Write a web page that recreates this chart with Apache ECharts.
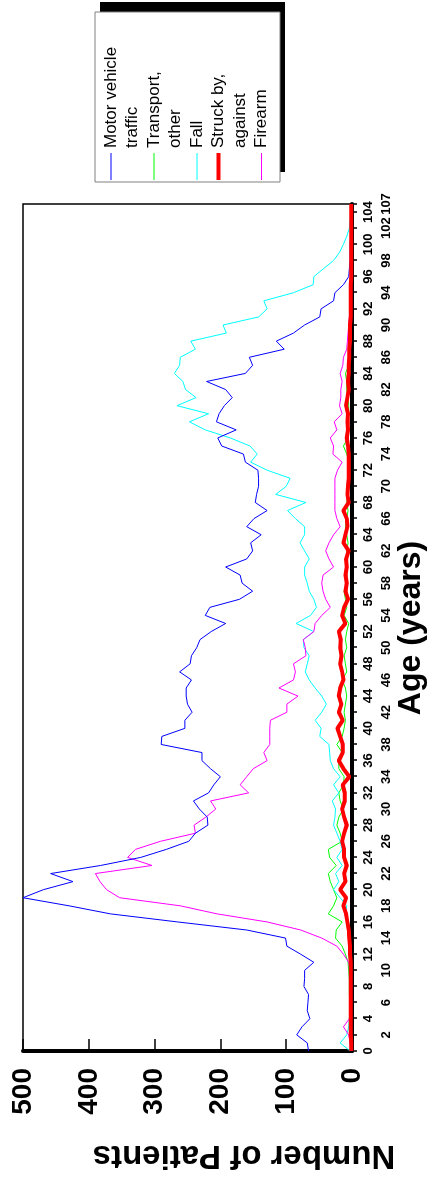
<!DOCTYPE html>
<html><head><meta charset="utf-8">
<script src="https://cdn.jsdelivr.net/npm/echarts@6/dist/echarts.min.js"></script>
<style>
html,body{margin:0;padding:0;background:#fff;overflow:hidden;width:437px;height:1184px}
#chart{position:absolute;left:0;top:0;width:1184px;height:437px;transform-origin:0 0;transform:translateY(1184px) rotate(-90deg);}
</style></head><body><div id="chart"></div>
<script>
const ages = ['0','1','2','3','4','5','6','7','8','9','10','11','12','13','14','15','16','17','18','19','20','21','22','23','24','25','26','27','28','29','30','31','32','33','34','35','36','37','38','39','40','41','42','43','44','45','46','47','48','49','50','51','52','53','54','55','56','57','58','59','60','61','62','63','64','65','66','67','68','69','70','71','72','73','74','75','76','77','78','79','80','81','82','83','84','85','86','87','88','89','90','91','92','93','94','95','96','97','98','99','100','101','102','103','104','107'];
const seriesNames = ['Motor vehicle traffic','Transport, other','Fall','Struck by, against','Firearm'];
const legendLabels = ['Motor vehicle\ntraffic','Transport,\nother','Fall','Struck by,\nagainst','Firearm'];
const valueTicks = [0,100,200,300,400,500];

const motorVehicle = [66,68,84,76,64,68,67,66,73,72, 72,58,78,99,101,160,265,367,430,500, 469,424,458,382,321,282,248,238,219,220, 232,241,218,210,200,215,228,228,290,289, 254,254,243,250,252,252,244,262,246,244, 236,231,214,192,223,216,171,151,167,170, 192,160,151,154,138,160,149,129,147,145, 142,142,143,162,165,198,204,176,206,202, 194,182,192,221,162,151,156,103,115,89, 72,49,47,28,26,13,5,4,3,3, 3,2,2,1,1, 0];
const transportOther = [1,2,2,2,3,3,3,4,4,4, 5,6,10,15,25,24,15,36,28,23, 28,33,36,24,34,36,15,18,23,20, 13,18,20,13,12,20,20,15,23,15, 12,10,12,10,8,10,15,8,10,12, 8,10,8,5,12,8,10,12,8,8, 10,8,8,6,8,10,8,6,8,6, 8,6,6,5,8,13,6,5,6,5, 5,6,8,8,10,5,4,4,3,3, 3,2,2,2,2,1,1,1,1,1, 0,0,0,0,0, 0];
const fall = [3,18,8,5,4,3,3,3,3,4, 4,4,4,4,4,4,5,10,8,18, 28,20,25,15,23,15,18,23,28,26, 25,30,20,28,18,28,33,34,35,49, 47,56,46,39,46,56,65,71,68,65, 73,74,58,85,63,54,58,65,68,72, 72,65,72,79,72,72,86,98,70,116, 100,94,129,154,144,155,185,223,247,218, 266,237,253,257,270,262,261,238,245,191, 196,142,129,134,89,59,58,43,28,19, 13,8,4,3,1, 0];
const struckBy = [1,1,2,2,2,2,2,2,2,2, 2,2,3,3,4,5,7,9,13,9, 18,10,12,8,12,12,15,12,8,12, 15,11,11,14,4,13,20,14,14,18, 22,14,20,16,20,18,13,15,18,16, 18,17,20,10,15,12,6,10,8,10, 8,9,5,13,10,7,8,13,5,7, 6,5,5,5,5,6,8,6,7,6, 9,7,5,6,5,5,4,4,3,3, 3,2,2,2,2,2,1,1,1,1, 1,1,1,1,1, 1];
const firearm = [2,3,5,13,4,3,3,3,3,3, 3,5,13,23,46,78,129,205,261,353, 373,383,390,304,341,329,291,238,240,222, 207,215,157,170,160,150,129,134,125,125, 125,124,99,99,82,111,89,86,89,70, 71,74,58,56,46,33,40,44,46,44, 28,35,40,35,28,18,23,26,26,26, 26,26,22,15,29,28,33,23,27,15, 19,17,17,15,18,14,13,8,7,6, 5,4,3,3,2,2,2,1,1,1, 1,1,0,0,0, 0];

const colors = ['#0000FF','#00FF00','#00FFFF','#FF0000','#FF00FF'];
const widths = [1,1,1,4,1];
const dataSets = [motorVehicle, transportOther, fall, struckBy, firearm];
const zOrder = [4,2,3,6,3];
const FONT = "'Liberation Sans', Arial, Helvetica, sans-serif";

const chart = echarts.init(document.getElementById('chart'), null, {renderer:'canvas'});
const lastIdx = ages.length - 1;
const showTick = function(index){ return index % 2 === 0 || index === lastIdx; };
const showNear = function(index){ return index % 4 === 0 && index !== lastIdx; };
const showFar = function(index){ return index % 4 === 2 || index === lastIdx; };

const legendGraphics = [
  {type:'rect', shape:{x:1012,y:100,width:170,height:185}, style:{fill:'#000'}, z:10},
  {type:'rect', shape:{x:1002,y:95,width:170,height:185}, style:{fill:'#fff',stroke:'#808080',lineWidth:1}, z:11}
];
const lineH = 21.5;
let cy = 111;
seriesNames.forEach(function(name, i){
  legendGraphics.push({type:'line', shape:{x1:1004,y1:cy,x2:1031,y2:cy}, style:{stroke:colors[i], lineWidth:widths[i]}, z:12});
  legendGraphics.push({type:'text', x:1036, y:cy - lineH/2, style:{text:legendLabels[i], fill:'#000', font:'17px ' + FONT, lineHeight:lineH, align:'left', verticalAlign:'top', textAlign:'left', textVerticalAlign:'top'}, z:12});
  cy += lineH * legendLabels[i].split('\n').length;
});

const labelBase = {fontSize:13, fontWeight:'bold', color:'#000', fontFamily:FONT, lineHeight:18, showMinLabel:true, showMaxLabel:true, hideOverlap:false};

const option = {
  animation:false,
  backgroundColor:'#fff',
  textStyle:{fontFamily:FONT},
  grid:{left:133,right:204,top:23,bottom:85,show:true,borderColor:'#000',borderWidth:1.5,backgroundColor:'transparent'},
  xAxis:[{
    type:'category', data:ages, boundaryGap:false, position:'bottom',
    axisLine:{lineStyle:{color:'#000',width:4}},
    axisTick:{show:true, interval:showTick, length:5, lineStyle:{color:'#000',width:1.5}},
    axisLabel:Object.assign({interval:showNear, margin:7}, labelBase),
    splitLine:{show:false}
  },{
    type:'category', data:ages, boundaryGap:false, position:'bottom', offset:0,
    axisLine:{show:false}, axisTick:{show:false},
    axisLabel:Object.assign({interval:showFar, margin:25}, labelBase),
    splitLine:{show:false}
  }],
  yAxis:{
    type:'value', min:valueTicks[0], max:valueTicks[valueTicks.length-1], interval:valueTicks[1]-valueTicks[0],
    axisLine:{show:true, lineStyle:{color:'#000',width:4}},
    axisTick:{show:true, inside:true, length:12, lineStyle:{color:'#000',width:1.5}},
    axisLabel:{margin:17, fontSize:28, fontWeight:'bold', color:'#000', fontFamily:FONT},
    splitLine:{show:false}
  },
  series: seriesNames.map(function(name, i){
    return {name:name, type:'line', xAxisIndex:0, data:dataSets[i], symbol:'none', smooth:false, z:zOrder[i],
      lineStyle:{color:colors[i], width:widths[i]}, itemStyle:{color:colors[i]}};
  }),
  graphic: legendGraphics.concat([
    {type:'text', x:556, y:411, style:{text:'Age (years)', fill:'#000', font:'bold 32px ' + FONT, align:'center', verticalAlign:'middle', textAlign:'center', textVerticalAlign:'middle'}, z:12},
    {type:'text', x:29, y:244, rotation:Math.PI/2, style:{text:'Number of Patients', fill:'#000', font:'bold 33px ' + FONT, align:'center', verticalAlign:'middle', textAlign:'center', textVerticalAlign:'middle'}, z:12}
  ])
};
chart.setOption(option);
</script></body></html>
